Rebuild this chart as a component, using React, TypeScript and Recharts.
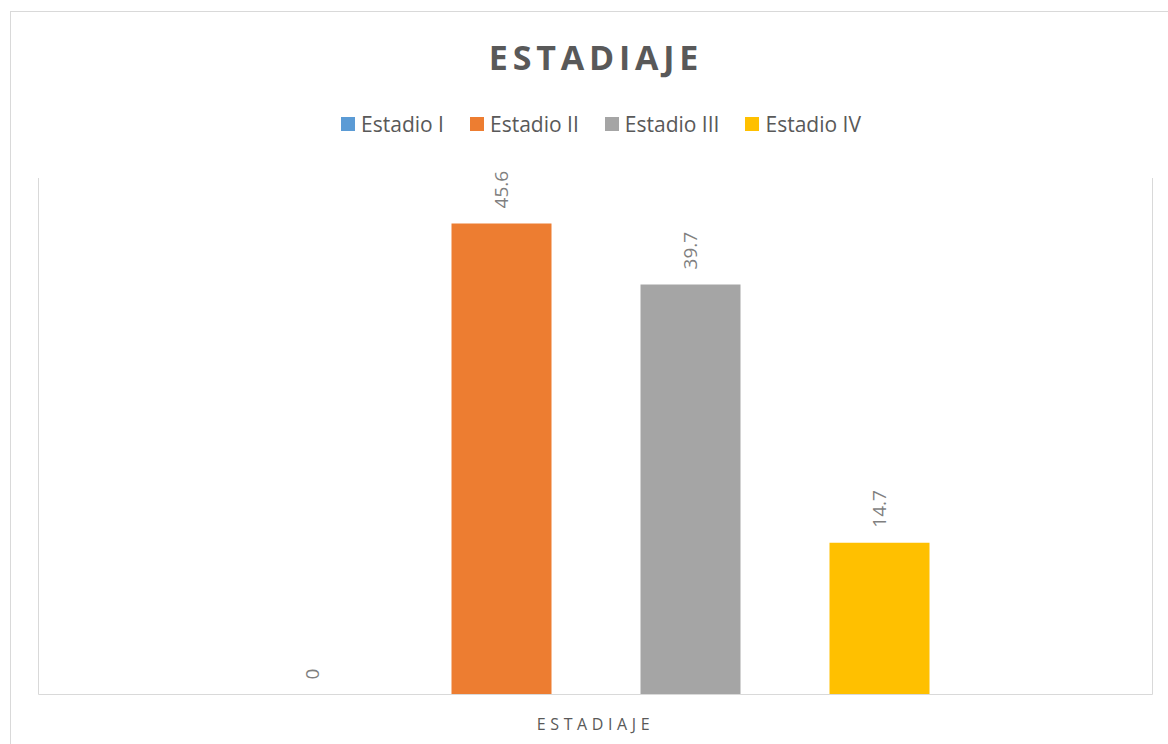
import { BarChart, Bar, XAxis, YAxis } from "recharts"

// Datos
const categories = ["ESTADIAJE"]
const seriesNames = ["Estadio I", "Estadio II", "Estadio III", "Estadio IV"]
const seriesValues = [0, 45.6, 39.7, 14.7]
const seriesColors = ["#5b9bd5", "#ed7d31", "#a5a5a5", "#ffc000"]

const data = categories.map((name) => {
  const row: any = { name }
  seriesNames.forEach((s, i) => {
    row[s] = seriesValues[i]
  })
  return row
})

const FONT = "'Open Sans', sans-serif"

const ValueLabel = (props: any) => {
  const vb = props.viewBox || {}
  const x = props.x ?? vb.x
  const y = props.y ?? vb.y
  const width = props.width ?? vb.width ?? 0
  const height = props.height ?? vb.height ?? 0
  const cx = x + width / 2
  const cy = Math.min(y, y + height) - 15
  return (
    <text
      x={cx}
      y={cy}
      transform={`rotate(-90, ${cx}, ${cy})`}
      textAnchor="start"
      dominantBaseline="central"
      fontSize={19}
      fontFamily={FONT}
      fill="#7f7f7f"
    >
      {props.value}
    </text>
  )
}

const CategoryTick = (props: any) => {
  const { x, y, payload } = props
  return (
    <text
      x={x}
      y={y + 27}
      textAnchor="middle"
      fontSize={16}
      fontFamily={FONT}
      letterSpacing={4.6}
      fill="#595959"
    >
      {payload.value}
    </text>
  )
}

export default function App() {
  return (
    <div
      style={{
        position: "fixed",
        left: 0,
        top: 0,
        width: 1168,
        height: 744,
        overflow: "hidden",
        background: "#fff",
        fontFamily: FONT,
      }}
    >
      <div
        style={{
          position: "absolute",
          left: 10,
          top: 11,
          width: 1170,
          height: 745,
          border: "1px solid #d9d9d9",
        }}
      >
        <div
          style={{
            position: "absolute",
            left: 0,
            top: 22,
            width: 1170,
            textAlign: "center",
            fontSize: 34,
            fontWeight: 700,
            letterSpacing: 4.8,
            color: "#595959",
            lineHeight: "46px",
          }}
        >
          ESTADIAJE
        </div>
        <div
          style={{
            position: "absolute",
            left: 0,
            top: 97,
            width: 1180,
            display: "flex",
            justifyContent: "center",
            gap: 26,
            fontSize: 21,
            color: "#595959",
            lineHeight: "30px",
          }}
        >
          {seriesNames.map((s, i) => (
            <div key={s} style={{ display: "flex", alignItems: "center" }}>
              <span
                style={{
                  display: "inline-block",
                  width: 14,
                  height: 14,
                  background: seriesColors[i],
                  marginRight: 6,
                }}
              />
              <span>{s}</span>
            </div>
          ))}
        </div>
        <div style={{ position: "absolute", left: 0, top: 0 }}>
          <BarChart
            width={1160}
            height={735}
            data={data}
            margin={{ top: 166, right: 17.5, bottom: 12.5, left: 26.5 }}
            barSize={100}
            barGap={89}
          >
            <XAxis
              dataKey="name"
              height={40}
              axisLine={{ stroke: "#d9d9d9", strokeWidth: 1 }}
              tickLine={false}
              tick={<CategoryTick />}
            />
            <YAxis
              yAxisId="left"
              domain={[0, 50]}
              width={1}
              tick={false}
              tickLine={false}
              axisLine={{ stroke: "#d9d9d9", strokeWidth: 1 }}
            />
            <YAxis
              yAxisId="right"
              orientation="right"
              domain={[0, 50]}
              width={1}
              tick={false}
              tickLine={false}
              axisLine={{ stroke: "#d9d9d9", strokeWidth: 1 }}
            />
            {seriesNames.map((s, i) => (
              <Bar
                key={s}
                dataKey={s}
                yAxisId="left"
                fill={seriesColors[i]}
                minPointSize={0.01}
                isAnimationActive={false}
                label={<ValueLabel />}
              />
            ))}
          </BarChart>
        </div>
      </div>
    </div>
  )
}
